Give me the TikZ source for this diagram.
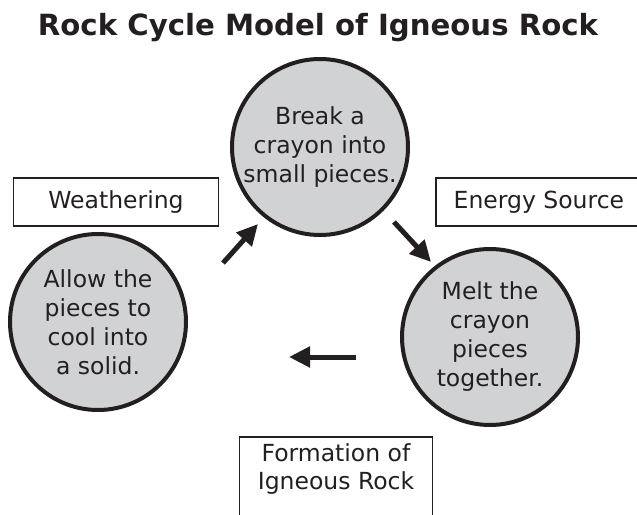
\documentclass[tikz,border=0pt]{standalone}
\usepackage{fontspec}
\setmainfont{DejaVu Sans}
\usetikzlibrary{arrows.meta,positioning}

\definecolor{rockgray}{RGB}{209,210,212}
\definecolor{inkgray}{RGB}{35,31,32}

\begin{document}
\begin{tikzpicture}[x=1pt,y=-1pt,
    stage/.style={circle,draw=inkgray,line width=4pt,fill=rockgray,
      minimum size=176pt,inner sep=0pt,align=center,text=inkgray,
      font=\fontsize{23.5}{29}\selectfont},
    tag/.style={draw=inkgray,line width=1.8pt,align=center,text=inkgray,
      font=\fontsize{23.5}{28}\selectfont},
    flow/.style={-{Triangle[length=21pt,width=20pt]},line width=5pt,draw=inkgray}]
    \clip (0,0) rectangle (637,514);

    \node[font=\bfseries\fontsize{29.2}{32}\selectfont,text=inkgray] (title) at (318,28)
      {Rock Cycle Model of Igneous Rock};

    \node[stage] (crush) at (320,147) {Break a\\crayon into\\small pieces.};
    \node[stage] (melt)  at (490,337) {Melt the\\crayon\\pieces\\together.};
    \node[stage] (cool)  at (98,322)  {Allow the\\pieces to\\cool into\\a solid.};

    \node[tag,minimum width=205pt,minimum height=48pt] (weather) at (116,202) {Weathering};
    \node[tag,minimum width=222pt,minimum height=48pt,anchor=west] (energy) at (435,202)
      {Energy Source\hspace{16pt}};
    \node[tag,minimum width=193pt,minimum height=110pt,anchor=north] (form) at (336,436)
      {Formation of\\Igneous Rock\\[22pt]};

    % arrows round the cycle
    \coordinate (a1) at (223,263);
    \coordinate (b1) at (258,224);
    \coordinate (a2) at (394,222);
    \coordinate (b2) at (431,262);
    \coordinate (a3) at (356,357);
    \coordinate (b3) at (289,357);
    \draw[flow] (a1) -- (b1);
    \draw[flow] (a2) -- (b2);
    \draw[flow] (a3) -- (b3);
\end{tikzpicture}
\end{document}
